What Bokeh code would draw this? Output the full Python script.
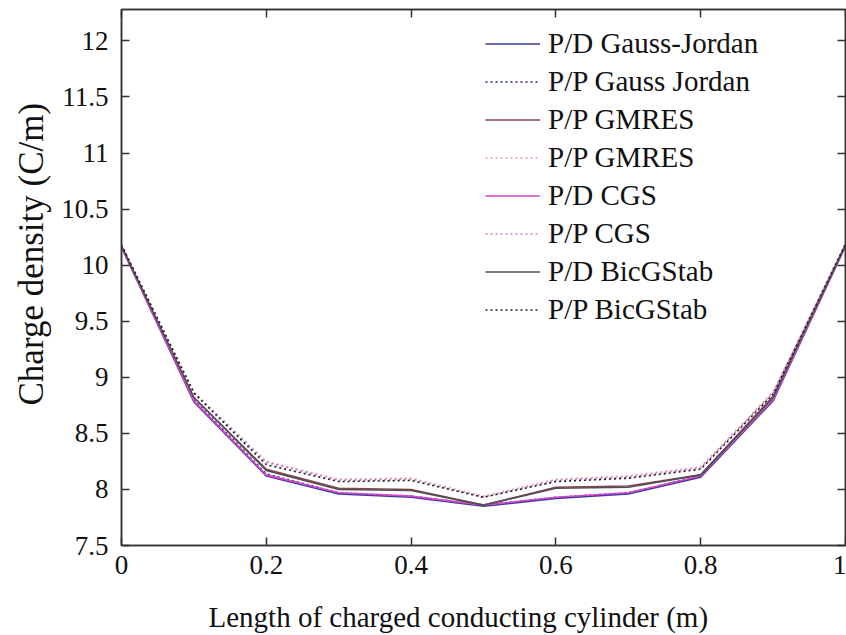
from bokeh.plotting import figure
from bokeh.models import Legend, LegendItem, LinearAxis, Range1d, FixedTicker, Title
from bokeh.embed import file_html
from bokeh.resources import INLINE

# ---- data ----
x = [0.0, 0.1, 0.2, 0.3, 0.4, 0.5, 0.6, 0.7, 0.8, 0.9, 1.0]
pd_gauss_jordan = [10.16, 8.78, 8.12, 7.96, 7.93, 7.85, 7.92, 7.96, 8.11, 8.79, 10.17]
pp_gauss_jordan = [10.17, 8.80, 8.14, 7.97, 7.94, 7.86, 7.93, 7.97, 8.12, 8.80, 10.18]
pd_gmres = [10.17, 8.82, 8.18, 8.01, 8.00, 7.86, 8.02, 8.03, 8.13, 8.83, 10.18]
pp_gmres = [10.18, 8.87, 8.25, 8.09, 8.10, 7.94, 8.09, 8.12, 8.20, 8.87, 10.19]
pd_cgs = [10.16, 8.79, 8.13, 7.97, 7.94, 7.86, 7.93, 7.97, 8.12, 8.80, 10.17]
pp_cgs = [10.18, 8.86, 8.24, 8.08, 8.09, 7.93, 8.08, 8.11, 8.19, 8.86, 10.19]
pd_bicgstab = [10.17, 8.82, 8.17, 8.00, 7.99, 7.86, 8.01, 8.02, 8.13, 8.82, 10.18]
pp_bicgstab = [10.18, 8.86, 8.22, 8.07, 8.08, 7.93, 8.07, 8.10, 8.18, 8.85, 10.19]

series_names = ["P/D Gauss-Jordan", "P/P Gauss Jordan", "P/P GMRES", "P/P GMRES",
                "P/D CGS", "P/P CGS", "P/D BicGStab", "P/P BicGStab"]
series_values = [pd_gauss_jordan, pp_gauss_jordan, pd_gmres, pp_gmres,
                 pd_cgs, pp_cgs, pd_bicgstab, pp_bicgstab]

x_ticks = [0, 0.2, 0.4, 0.6, 0.8, 1]
y_ticks = [7.5, 8, 8.5, 9, 9.5, 10, 10.5, 11, 11.5, 12]
y_tick_labels = {7.5: "7.5", 8: "8", 8.5: "8.5", 9: "9", 9.5: "9.5", 10: "10",
                 10.5: "10.5", 11: "11", 11.5: "11.5", 12: "12"}
x_tick_labels = {0: "0", 0.2: "0.2", 0.4: "0.4", 0.6: "0.6", 0.8: "0.8", 1: "1"}
x_title = "Length of charged conducting cylinder (m)"
y_title = "Charge density (C/m)"

# ---- styles ----
colors = ["#3b3b9e", "#1c2c8c", "#8a4450", "#e09aa8", "#d845c8", "#c97ec0", "#505050", "#202030"]
dashes = ["solid", "2 3", "solid", "2 3", "solid", "2 3", "solid", "2 3"]
FONT = "'Liberation Serif', 'DejaVu Serif', serif"
AX = "#333333"

p = figure(width=846, height=635, output_backend="svg", toolbar_location=None,
           x_range=Range1d(0, 1), y_range=Range1d(7.5, 12.28),
           min_border_left=121, min_border_right=1, min_border_top=9, min_border_bottom=90)
p.grid.visible = False
p.outline_line_color = AX
p.outline_line_width = 1.5
p.background_fill_color = "white"
p.border_fill_color = "white"

renderers = []
for vals, col, dash in zip(series_values, colors, dashes):
    r = p.line(x, vals, line_color=col, line_width=1.6, line_dash=dash)
    renderers.append(r)

items = [LegendItem(label=n, renderers=[r]) for n, r in zip(series_names, renderers)]
legend = Legend(items=items, location=(364, 219))
legend.padding = 0
legend.margin = 0
legend.spacing = 5
legend.glyph_width = 55
legend.glyph_height = 31
legend.label_height = 31
legend.label_standoff = 8
legend.label_text_font = FONT
legend.label_text_font_size = "29px"
legend.label_text_color = "#111111"
legend.background_fill_alpha = 0
legend.border_line_alpha = 0
p.add_layout(legend, "center")

def style_axis(ax, labels=True):
    ax.axis_line_color = AX
    ax.axis_line_width = 1.5
    ax.major_tick_line_color = AX
    ax.major_tick_line_width = 1.5
    ax.major_tick_in = 8
    ax.major_tick_out = 0
    ax.minor_tick_line_color = None
    ax.major_label_text_font = FONT
    ax.major_label_text_font_size = "27px"
    ax.major_label_text_color = "#111111"
    if not labels:
        ax.major_label_text_font_size = "0px"
        ax.major_label_text_alpha = 0

xa = p.xaxis[0]
xa.ticker = FixedTicker(ticks=x_ticks)
xa.major_label_overrides = x_tick_labels
style_axis(xa)
xa.major_label_standoff = 10

ya = p.yaxis[0]
ya.ticker = FixedTicker(ticks=y_ticks)
ya.major_label_overrides = y_tick_labels
style_axis(ya)
ya.major_label_standoff = 13

top = LinearAxis(ticker=FixedTicker(ticks=x_ticks))
style_axis(top, labels=False)
top.major_label_standoff = 0
p.add_layout(top, "above")

right = LinearAxis(ticker=FixedTicker(ticks=y_ticks))
style_axis(right, labels=False)
right.major_label_standoff = 0
p.add_layout(right, "right")

# spacer between tick labels and the x-axis title
spacer = Title(text=" ", text_font_size="2px", standoff=18)
p.add_layout(spacer, "below")

xt = Title(text=x_title, align="left", offset=87, text_font=FONT,
           text_font_size="29px", text_font_style="normal", text_color="#111111",
           standoff=0)
p.add_layout(xt, "below")

yt = Title(text=y_title, align="left", offset=140, text_font=FONT,
           text_font_size="35px", text_font_style="normal", text_color="#111111",
           standoff=16)
p.add_layout(yt, "left")

open("out.html", "w").write(file_html(p, INLINE))
